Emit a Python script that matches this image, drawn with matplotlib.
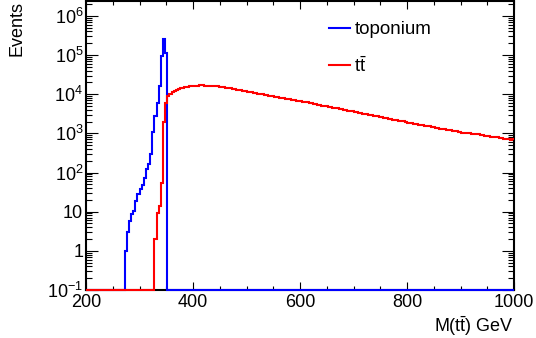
import numpy as np
import matplotlib
matplotlib.use("Agg")
from matplotlib import pyplot as plt
from matplotlib.ticker import FixedLocator, LogLocator, MultipleLocator, NullFormatter

plt.rcParams['font.family'] = ['Liberation Sans', 'DejaVu Sans']
plt.rcParams['mathtext.fontset'] = 'custom'
plt.rcParams['mathtext.rm'] = 'Liberation Sans'
plt.rcParams['mathtext.it'] = 'Liberation Sans:italic'

# histogram binning: 4 GeV bins from 200 to 1000 GeV
bin_width = 4
x_min, x_max = 200, 1000

# toponium, first filled bin starts at 272 GeV
toponium_start = 272
toponium_counts = [1, 3, 5.8, 8.6, 10.4, 18.7, 28, 39, 47, 74,
                   120, 165, 290, 1100, 2700, 6000, 15800, 93000, 250000, 115000]

# ttbar continuum, first filled bin starts at 328 GeV
ttbar_start = 328
ttbar_counts = [
    2, 9, 14, 55, 2000, 6000, 8800, 10100,
    11100, 12000, 12800, 13500, 14100, 14600, 15100, 15500,
    15800, 16100, 16300, 16500, 16600, 16700, 16700, 16650,
    16550, 16450, 16290, 16180, 16030, 15780, 15520, 15280,
    15030, 14790, 14450, 14130, 13800, 13490, 13180, 12850,
    12530, 12220, 11910, 11610, 11350, 11090, 10840, 10590,
    10350, 10120, 9890, 9660, 9440, 9230, 9020, 8810,
    8610, 8410, 8220, 8040, 7850, 7670, 7500, 7330,
    7160, 7000, 6840, 6680, 6530, 6380, 6240, 6150,
    5960, 5820, 5680, 5530, 5400, 5260, 5080, 5010,
    4900, 4790, 4680, 4570, 4460, 4350, 4240, 4130,
    4030, 3930, 3830, 3730, 3640, 3580, 3460, 3370,
    3290, 3210, 3130, 3050, 2970, 2900, 2820, 2750,
    2720, 2620, 2550, 2490, 2400, 2370, 2310, 2250,
    2190, 2140, 2080, 2030, 2010, 1930, 1880, 1840,
    1800, 1760, 1720, 1650, 1640, 1600, 1570, 1530,
    1500, 1460, 1430, 1400, 1390, 1330, 1300, 1270,
    1240, 1220, 1210, 1160, 1140, 1120, 1090, 1040,
    1050, 1030, 1010, 1010, 977, 960, 942, 950,
    908, 891, 875, 840, 843, 828, 813, 820,
    787, 774, 762, 730, 738, 726, 690, 720,
]

y_ticks = [0.1, 1, 10, 1e2, 1e3, 1e4, 1e5, 1e6]
y_ticklabels = ['$10^{-1}$', '1', '10', '$10^{2}$', '$10^{3}$', '$10^{4}$', '$10^{5}$', '$10^{6}$']
y_min, y_max = 0.1, 2.4e6

edges = np.arange(x_min, x_max + bin_width, bin_width)
nbins = len(edges) - 1


def fill(start, counts):
    h = np.zeros(nbins)
    i0 = (start - x_min) // bin_width
    h[i0:i0 + len(counts)] = counts
    # ROOT draws empty bins on the lower frame
    return np.where(h > 0, h, y_min)


toponium = fill(toponium_start, toponium_counts)
ttbar = fill(ttbar_start, ttbar_counts)

fig = plt.figure(figsize=(5.36, 3.38), dpi=100)
ax = fig.add_axes([86 / 536, 1 - 290 / 338, 428 / 536, 289 / 338])

ax.stairs(toponium, edges, baseline=None, color='#0000ff', lw=1.5, zorder=3, clip_on=False,
          label='toponium')
ax.stairs(ttbar, edges, baseline=None, color='#ff0000', lw=1.5, zorder=3, clip_on=False,
          label=r'$\mathrm{t\bar{t}}$')

ax.set_yscale('log')
ax.set_xlim(x_min, x_max)
ax.set_ylim(y_min, y_max)

ax.xaxis.set_major_locator(MultipleLocator(200))
ax.xaxis.set_minor_locator(MultipleLocator(50))
ax.yaxis.set_major_locator(FixedLocator(y_ticks))
ax.set_yticklabels(y_ticklabels)
ax.yaxis.set_minor_locator(LogLocator(base=10, subs=np.arange(2, 10), numticks=20))
ax.yaxis.set_minor_formatter(NullFormatter())

ax.tick_params(axis='both', which='both', direction='in', top=True, right=True,
               labelsize=13, width=0.8)
ax.tick_params(axis='x', which='major', length=6, pad=3)
ax.tick_params(axis='x', which='minor', length=3)
ax.tick_params(axis='y', which='major', length=8.5, pad=2)
ax.tick_params(axis='y', which='minor', length=4.5)
for s in ax.spines.values():
    s.set_linewidth(1.5)

ax.legend(loc='upper left', bbox_to_anchor=(0.568, 0.93), frameon=False, fontsize=13.5,
          handlelength=1.1, handletextpad=0.25, labelspacing=0.95, borderpad=0, borderaxespad=0)

fig.text(17 / 536, 1 - 1 / 338, 'Events', rotation=90, ha='center', va='top', fontsize=13)
fig.text(514 / 536, 1 - 326 / 338, r'M($\mathrm{t\bar{t}}$) GeV', ha='right', va='center', fontsize=13)

fig.savefig('out.png', dpi=100)
